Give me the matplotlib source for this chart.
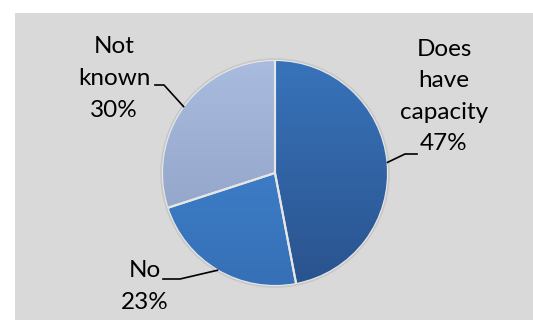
import numpy as np
import matplotlib.pyplot as plt
from matplotlib.colors import LinearSegmentedColormap
from matplotlib.patches import Rectangle

labels = ["Does\nhave\ncapacity", "No", "Not\nknown"]
shares = [47, 23, 30]
# top and bottom colour of each slice's vertical gradient
tops = ["#3873BA", "#4289D6", "#A9BCE0"]
bottoms = ["#2A538E", "#3670B6", "#8A9CC0"]

W, H = 533, 320
fig = plt.figure(figsize=(W / 100, H / 100), dpi=100)
fig.patch.set_facecolor("white")
ax = fig.add_axes([0, 0, 1, 1])
ax.set_xlim(0, W)
ax.set_ylim(0, H)
ax.axis("off")

# grey chart area
ax.add_patch(Rectangle((15, 0), W - 15, H - 13, facecolor="#D9D9D9", edgecolor="none", zorder=0))

cx, cy, r = 275, 147, 113
wedges, _ = ax.pie(shares, center=(cx, cy), radius=r, startangle=90, counterclock=False,
                   wedgeprops=dict(edgecolor="#E6E6E6", linewidth=1.5))
ax.set_xlim(0, W)
ax.set_ylim(0, H)
ax.set_aspect("equal")

grad = np.linspace(0, 1, 256).reshape(-1, 1)
for w, c0, c1 in zip(wedges, tops, bottoms):
    w.set_facecolor("none")
    w.set_zorder(3)
    cmap = LinearSegmentedColormap.from_list("g", [c1, c0])
    im = ax.imshow(grad, cmap=cmap, origin="lower", aspect="auto",
                   extent=(cx - r, cx + r, cy - r, cy + r), zorder=2)
    im.set_clip_path(w)

# outer rim
ax.add_patch(plt.Circle((cx, cy), r + 1, facecolor="none", edgecolor="#C8C8C8", linewidth=1.2, zorder=4))

font = dict(family="Lato", fontsize=17.5, color="black", ha="center", va="center", linespacing=1.62)
text_pos = [(444, 223.5), (145, 33.5), (114, 241.5)]
elbows = [(-12, 0), (17, 0), (9, 0)]
line_start = [(417, 166), (163, 41), (155, 235)]
for w, lab, pct, tp, ls, el in zip(wedges, labels, shares, text_pos, line_start, elbows):
    ang = np.deg2rad((w.theta1 + w.theta2) / 2)
    px, py = cx + r * np.cos(ang), cy + r * np.sin(ang)
    ax.text(tp[0], tp[1], f"{lab}\n{pct}%", **font)
    ax.plot([ls[0], ls[0] + el[0], px], [ls[1], ls[1], py], color="black", lw=1.2, zorder=5)

fig.savefig("out.png", dpi=100)
